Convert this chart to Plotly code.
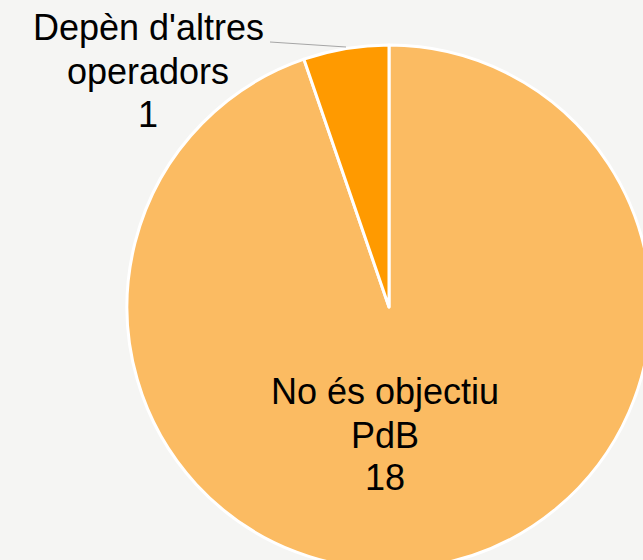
import plotly.graph_objects as go

# Data
labels = ["No és objectiu PdB", "Depèn d'altres operadors"]
label_lines = [["No és objectiu", "PdB"], ["Depèn d'altres", "operadors"]]
values = [18, 1]
colors = ["#FBBB62", "#FF9A00"]

W, H = 660, 580
BG = "#F5F5F3"
FONT = "Liberation Sans, Arial, sans-serif"
FS = 36

def px(x):
    return x / W

def py(y):
    return 1 - y / H

fig = go.Figure()
fig.add_trace(go.Pie(
    labels=labels,
    values=values,
    sort=False,
    direction="clockwise",
    rotation=0,
    marker=dict(colors=colors, line=dict(color="white", width=3)),
    textinfo="none",
    hoverinfo="label+value",
    showlegend=False,
    domain=dict(x=[px(127), px(651)], y=[py(569), py(45)]),
))

# Data labels (one annotation per text line)
label_pos = [(385, [391.5, 435.5, 477.5]), (148, [27.5, 71.5, 114.5])]
for i, (cx, ys) in enumerate(label_pos):
    lines = label_lines[i] + [str(values[i])]
    for line, yy in zip(lines, ys):
        fig.add_annotation(
            x=px(cx), y=py(yy), xref="paper", yref="paper",
            text=line, showarrow=False,
            font=dict(family=FONT, size=FS, color="black"), align="center",
            xanchor="center", yanchor="middle",
        )

# Leader line for the outside label
fig.add_shape(type="line", xref="paper", yref="paper",
              x0=px(270), y0=py(42), x1=px(346), y1=py(47),
              line=dict(color="#A6A6A6", width=1))

fig.update_layout(
    width=W, height=H,
    margin=dict(l=0, r=0, t=0, b=0),
    paper_bgcolor=BG, plot_bgcolor=BG,
)

fig.write_html(
    "out.html",
    config={"displayModeBar": False},
    post_script="document.body.style.margin='0';document.body.style.overflow='hidden';",
)
